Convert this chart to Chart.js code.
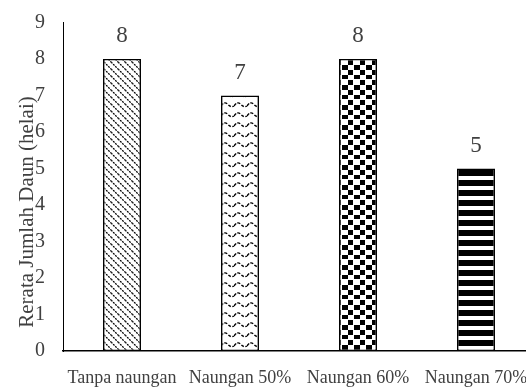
<!DOCTYPE html>
<html>
<head>
<meta charset="utf-8">
<script src="https://cdn.jsdelivr.net/npm/chart.js@4/dist/chart.umd.min.js"></script>
<style>
  html, body { margin: 0; padding: 0; background: #fff; overflow: hidden; }
  #wrap { width: 540px; height: 391px; }
</style>
</head>
<body>
<div id="wrap"><canvas id="chart"></canvas></div>
<script>
const categories = ['Tanpa naungan', 'Naungan 50%', 'Naungan 60%', 'Naungan 70%'];
const values = [8, 7, 8, 5];
const yMin = 0;
const yMax = 9;
const yTitle = 'Rerata Jumlah Daun (helai)';

const FONT = "'Liberation Serif', 'Times New Roman', serif";

// small pattern tiles for the bar fills
function tile(w, h, draw) {
  const c = document.createElement('canvas');
  c.width = w; c.height = h;
  const g = c.getContext('2d');
  g.fillStyle = '#fff';
  g.fillRect(0, 0, w, h);
  draw(g);
  return g.createPattern(c, 'repeat');
}

const patDiag = tile(7, 7, g => {
  g.strokeStyle = '#000';
  g.lineWidth = 1.3;
  g.setLineDash([2, 1]);
  g.beginPath();
  g.moveTo(-1, -1); g.lineTo(8, 8);
  g.moveTo(-1, 6); g.lineTo(1, 8);
  g.moveTo(6, -1); g.lineTo(8, 1);
  g.stroke();
});

const patWave = tile(13, 10, g => {
  g.strokeStyle = '#000';
  g.lineWidth = 1.4;
  g.setLineDash([3, 1.5]);
  g.beginPath();
  g.moveTo(0, 6);
  g.quadraticCurveTo(3.25, 1, 6.5, 4);
  g.quadraticCurveTo(9.75, 8, 13, 6);
  g.stroke();
});

const patCheck = tile(12, 20, g => {
  g.fillStyle = '#000';
  for (let r = 0; r < 4; r++) {
    for (let c = 0; c < 2; c++) {
      if ((r + c) % 2 === 0) g.fillRect(c * 6, r * 5, 6, 5);
    }
  }
  g.fillStyle = '#fff';
  g.fillRect(0, 19, 12, 1);
  g.fillRect(5, 0, 1, 20);
});

const patStripe = tile(10, 10, g => {
  g.fillStyle = '#000';
  g.fillRect(0, 0, 10, 6);
});

const dataLabels = {
  id: 'dataLabels',
  afterDatasetsDraw(chart) {
    const ctx = chart.ctx;
    const meta = chart.getDatasetMeta(0);
    ctx.save();
    ctx.font = '23px ' + FONT;
    ctx.fillStyle = '#404040';
    ctx.textAlign = 'center';
    ctx.textBaseline = 'alphabetic';
    meta.data.forEach((bar, i) => {
      ctx.fillText(String(values[i]), bar.x, bar.y - 17);
    });
    ctx.restore();
  }
};

// y title drawn by hand so it can sit a little lower than the plot centre
const yTitlePlugin = {
  id: 'yTitlePlugin',
  afterDraw(chart) {
    const ctx = chart.ctx;
    ctx.save();
    ctx.translate(27, 212);
    ctx.rotate(-Math.PI / 2);
    ctx.font = '21px ' + FONT;
    ctx.fillStyle = '#404040';
    ctx.textAlign = 'center';
    ctx.textBaseline = 'middle';
    ctx.fillText(yTitle, 0, 0);
    ctx.restore();
  }
};

new Chart(document.getElementById('chart'), {
  type: 'bar',
  data: {
    labels: categories,
    datasets: [{
      data: values,
      backgroundColor: [patDiag, patWave, patCheck, patStripe],
      borderColor: '#000',
      borderWidth: 1.6,
      borderSkipped: false,
      barPercentage: 0.322,
      categoryPercentage: 1
    }]
  },
  options: {
    responsive: true,
    maintainAspectRatio: false,
    animation: false,
    layout: { padding: { top: 22.5, right: 5, bottom: 0, left: 0 } },
    plugins: {
      legend: { display: false },
      tooltip: { enabled: false }
    },
    scales: {
      x: {
        grid: { display: false, drawTicks: false },
        border: { display: true, color: '#000', width: 1.5 },
        ticks: {
          color: '#404040',
          font: { family: FONT, size: 18 },
          padding: 16,
          maxRotation: 0,
          autoSkip: false
        },
        afterFit(scale) {
          scale.height = 40;
          scale.paddingLeft = 0;
          scale.paddingRight = 0;
        }
      },
      y: {
        min: yMin,
        max: yMax,
        grid: { display: false, drawTicks: false },
        border: { display: true, color: '#000', width: 1 },
        ticks: {
          stepSize: 1,
          color: '#404040',
          font: { family: FONT, size: 20 },
          padding: 18
        },
        afterFit(scale) {
          scale.width = 63;
          scale.paddingTop = 0;
          scale.paddingBottom = 0;
        }
      }
    }
  },
  plugins: [dataLabels, yTitlePlugin]
});
</script>
</body>
</html>
